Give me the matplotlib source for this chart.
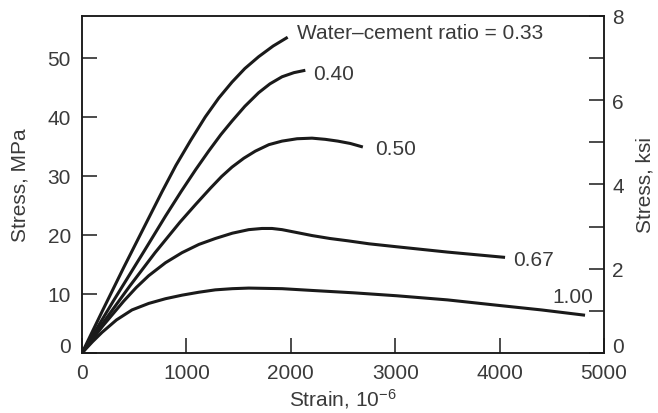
import numpy as np
import matplotlib
matplotlib.use("Agg")
import matplotlib.pyplot as plt
import matplotlib.transforms as mtransforms

plt.rcParams['font.family'] = ['Liberation Sans', 'DejaVu Sans']
plt.rcParams['mathtext.fontset'] = 'custom'
plt.rcParams['mathtext.rm'] = 'Liberation Sans'
plt.rcParams['mathtext.it'] = 'Liberation Sans'

# strain (1e-6) and stress (MPa)
strain_033 = [0, 200, 400, 600, 766, 900, 1040, 1181, 1310, 1437, 1560, 1692, 1830, 1970]
stress_033 = [0, 7.3, 14.5, 21.5, 27.3, 31.8, 36.0, 40.0, 43.2, 45.9, 48.2, 50.2, 52.0, 53.5]

strain_040 = [0, 300, 600, 800, 951, 1090, 1213, 1330, 1437, 1560, 1692, 1800, 1916, 2030, 2139]
stress_040 = [0, 8.8, 17.4, 23.2, 27.4, 31.1, 34.2, 37.0, 39.3, 41.8, 44.1, 45.6, 46.8, 47.5, 47.9]

strain_050 = [0, 230, 460, 700, 940, 1090, 1229, 1337, 1437, 1550, 1660, 1790, 1916, 2060, 2203, 2330, 2450, 2570, 2690]
stress_050 = [0, 5.8, 11.4, 17.0, 22.2, 25.2, 27.9, 29.9, 31.5, 33.0, 34.2, 35.3, 35.9, 36.3, 36.4, 36.2, 35.9, 35.5, 34.9]

strain_067 = [0, 200, 400, 520, 639, 800, 958, 1120, 1277, 1440, 1597, 1724, 1820, 1916, 2060, 2203, 2375, 2550, 2750, 3014, 3500, 4052]
stress_067 = [0, 4.6, 8.8, 11.1, 13.1, 15.3, 17.0, 18.4, 19.4, 20.3, 20.9, 21.1, 21.1, 20.9, 20.4, 19.9, 19.4, 19.0, 18.5, 18.0, 17.1, 16.2]

strain_100 = [0, 100, 192, 330, 479, 639, 800, 958, 1120, 1277, 1440, 1597, 1916, 2203, 2600, 3014, 3500, 3972, 4400, 4818]
stress_100 = [0, 1.9, 3.5, 5.6, 7.3, 8.4, 9.2, 9.8, 10.3, 10.7, 10.9, 11.0, 10.9, 10.6, 10.2, 9.7, 9.0, 8.1, 7.3, 6.4]

labels = ["Water\u2013cement ratio = 0.33", "0.40", "0.50", "0.67", "1.00"]

ink = '#1a1a1a'
txt = '#3a3a3a'
fs = 15

fig = plt.figure(figsize=(6.58, 4.14), dpi=100)
ax = fig.add_axes([0.1246, 0.1449, 0.7934, 0.8141])

curves = [(strain_033, stress_033), (strain_040, stress_040), (strain_050, stress_050),
          (strain_067, stress_067), (strain_100, stress_100)]
for x, y in curves:
    ax.plot(x, y, color=ink, lw=2.2, solid_joinstyle='round', solid_capstyle='butt')

# curve labels
ax.text(2060, 54.3, labels[0], fontsize=fs, color=txt, va='center', ha='left')
ax.text(2213, 47.3, labels[1], fontsize=fs, color=txt, va='center', ha='left')
ax.text(2806, 34.6, labels[2], fontsize=fs, color=txt, va='center', ha='left')
ax.text(4128, 15.9, labels[3], fontsize=fs, color=txt, va='center', ha='left')
ax.text(4895, 9.5, labels[4], fontsize=fs, color=txt, va='center', ha='right')

ax.set_xlim(0, 5000)
ax.set_ylim(0, 57.1)
ax.set_xticks([0, 1000, 2000, 3000, 4000, 5000])
ax.set_yticks([0, 10, 20, 30, 40, 50])
ax.tick_params(direction='in', length=11, width=1.1, color=ink, labelsize=fs,
               labelcolor=txt)
ax.tick_params(axis='x', pad=7)
ax.tick_params(axis='y', pad=8)
for s in ax.spines.values():
    s.set_linewidth(1.1)
    s.set_color(ink)
ax.set_xlabel("Strain, 10$^{-6}$", fontsize=fs, color=txt, labelpad=3)
ax.set_ylabel("Stress, MPa", fontsize=fs, color=txt, labelpad=13)

ax2 = ax.twinx()
ax2.set_ylim(0, 8)
ax2.set_yticks([0, 2, 4, 6, 8])
ax2.set_yticks([1, 3, 5, 7], minor=True)
ax2.tick_params(which='both', direction='in', length=11, width=1.1, color=ink,
                labelsize=fs, labelcolor=txt, pad=6)
ax2.set_ylabel("Stress, ksi", fontsize=fs, color=txt, labelpad=8)
for s in ax2.spines.values():
    s.set_linewidth(1.1)
    s.set_color(ink)

# the zero labels sit a little above the corner
fig.canvas.draw()
up = mtransforms.ScaledTranslation(0, 6 / 72, fig.dpi_scale_trans)
for lab in (ax.get_yticklabels()[0], ax2.get_yticklabels()[0]):
    lab.set_transform(lab.get_transform() + up)

fig.savefig("out.png", dpi=100)
